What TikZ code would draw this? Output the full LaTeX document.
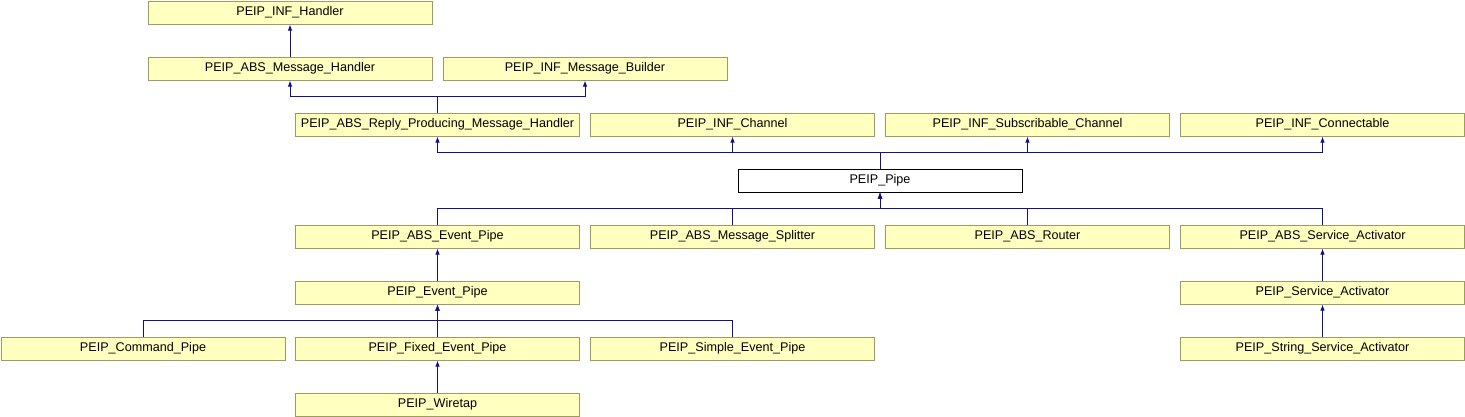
\documentclass[tikz,border=0pt]{standalone}
\usepackage{fontspec}
\setmainfont{Liberation Sans}
\usetikzlibrary{arrows.meta}
\definecolor{boxfill}{RGB}{255,255,192}
\definecolor{boxline}{RGB}{156,156,96}
\definecolor{edgecol}{RGB}{16,16,140}
\tikzset{
  cls/.style={draw=boxline, fill=boxfill, line width=1pt, rectangle, anchor=north west,
    minimum width=284pt, minimum height=23pt, inner sep=0pt,
    font=\fontsize{12.6}{14}\selectfont},
  curcls/.style={cls, draw=black, fill=white},
  arr/.style={draw=edgecol, line width=1pt, -{Latex[length=6pt,width=4.5pt]}},
}
\begin{document}
\begin{tikzpicture}[x=1pt,y=-1pt]
\useasboundingbox (0,0) rectangle (1465,416);
% row 0
\node[cls] (h) at (147.5,0.5) {PEIP\_INF\_Handler};
% row 1
\node[cls] (mh) at (147.5,56.5) {PEIP\_ABS\_Message\_Handler};
\node[cls] (mb) at (442.5,56.5) {PEIP\_INF\_Message\_Builder};
% row 2
\node[cls] (rp) at (295,112.5) {PEIP\_ABS\_Reply\_Producing\_Message\_Handler};
\node[cls] (ch) at (590,112.5) {PEIP\_INF\_Channel};
\node[cls] (sc) at (885,112.5) {PEIP\_INF\_Subscribable\_Channel};
\node[cls] (cn) at (1180,112.5) {PEIP\_INF\_Connectable};
% row 3
\node[curcls] (pp) at (737.5,168.5) {PEIP\_Pipe};
% row 4
\node[cls] (aep) at (295,224.5) {PEIP\_ABS\_Event\_Pipe};
\node[cls] (ms) at (590,224.5) {PEIP\_ABS\_Message\_Splitter};
\node[cls] (ro) at (885,224.5) {PEIP\_ABS\_Router};
\node[cls] (asa) at (1180,224.5) {PEIP\_ABS\_Service\_Activator};
% row 5
\node[cls] (ep) at (295,280.5) {PEIP\_Event\_Pipe};
\node[cls] (sa) at (1180,280.5) {PEIP\_Service\_Activator};
% row 6
\node[cls] (cp) at (0.5,336.5) {PEIP\_Command\_Pipe};
\node[cls] (fep) at (295,336.5) {PEIP\_Fixed\_Event\_Pipe};
\node[cls] (sep) at (590,336.5) {PEIP\_Simple\_Event\_Pipe};
\node[cls] (ssa) at (1180,336.5) {PEIP\_String\_Service\_Activator};
% row 7
\node[cls] (wt) at (295,392.5) {PEIP\_Wiretap};
% bus coordinates
\coordinate (b1) at (0,96);
\coordinate (b2) at (0,152);
\coordinate (b3) at (0,208);
\coordinate (b4) at (0,320);
% edges
\draw[arr] (mh.north) -- (h.south);
\draw[arr] (rp.north) -- (rp.north |- b1) -| (mh.south);
\draw[arr] (rp.north) -- (rp.north |- b1) -| (mb.south);
\draw[arr] (pp.north) -- (pp.north |- b2) -| (rp.south);
\draw[arr] (pp.north) -- (pp.north |- b2) -| (ch.south);
\draw[arr] (pp.north) -- (pp.north |- b2) -| (sc.south);
\draw[arr] (pp.north) -- (pp.north |- b2) -| (cn.south);
\draw[arr] (aep.north) -- (aep.north |- b3) -| (pp.south);
\draw[arr] (ms.north) -- (ms.north |- b3) -| (pp.south);
\draw[arr] (ro.north) -- (ro.north |- b3) -| (pp.south);
\draw[arr] (asa.north) -- (asa.north |- b3) -| (pp.south);
\draw[arr] (ep.north) -- (aep.south);
\draw[arr] (sa.north) -- (asa.south);
\draw[arr] (ssa.north) -- (sa.south);
\draw[arr] (cp.north) -- (cp.north |- b4) -| (ep.south);
\draw[arr] (fep.north) -- (fep.north |- b4) -| (ep.south);
\draw[arr] (sep.north) -- (sep.north |- b4) -| (ep.south);
\draw[arr] (wt.north) -- (fep.south);
\end{tikzpicture}
\end{document}
